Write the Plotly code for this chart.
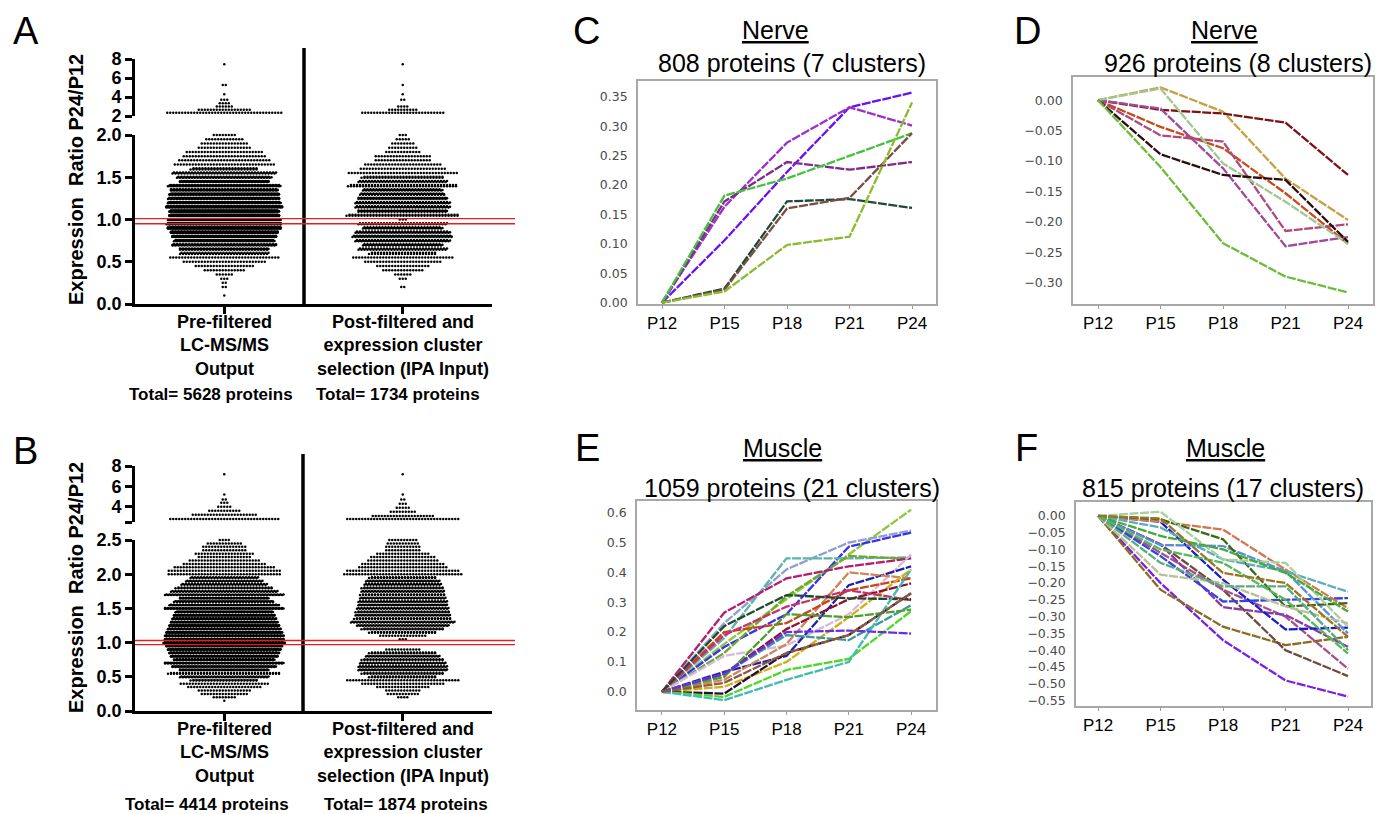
import math
import plotly.graph_objects as go

W, H = 1390, 814
OFF = 8  # page body margin offset compensation

# ---------------- Panels A / B : beeswarm data (bin value, number of proteins) ----------------
categories = ["Pre-filtered<br>LC-MS/MS<br>Output",
              "Post-filtered and<br>expression cluster<br>selection (IPA Input)"]

A_totals = [5628, 1734]
B_totals = [4414, 1874]

A_pre_lower_vals = [0.10, 0.15, 0.20, 0.25, 0.30, 0.35, 0.40, 0.45, 0.50, 0.55, 0.60, 0.65, 0.70,
                    0.75, 0.80, 0.85, 0.90, 0.95, 1.00, 1.05, 1.10, 1.15, 1.20, 1.25, 1.30, 1.35,
                    1.40, 1.45, 1.50, 1.55, 1.60, 1.65, 1.70, 1.75, 1.80, 1.85, 1.90, 1.95, 2.00]
A_pre_lower_n = [1, 0, 2, 2, 3, 6, 14, 20, 28, 37, 60, 90, 140, 200, 280, 360, 455, 495, 522, 475,
                 400, 350, 300, 260, 220, 180, 150, 120, 95, 70, 45, 34, 31, 28, 26, 18, 16, 13, 8]
A_pre_upper_vals = [2.35, 2.65, 3.0, 3.35, 3.7, 4.3, 5.25, 7.45]
A_pre_upper_n = [39, 18, 6, 4, 3, 1, 2, 1]

A_post_lower_vals = [0.20, 0.25, 0.30, 0.35, 0.40, 0.45, 0.50, 0.55, 0.60, 0.65, 0.70, 0.75, 0.80,
                     0.85, 0.90, 0.95, 1.00, 1.05, 1.10, 1.15, 1.20, 1.25, 1.30, 1.35, 1.40, 1.45,
                     1.50, 1.55, 1.60, 1.65, 1.70, 1.75, 1.80, 1.85, 1.90, 1.95, 2.00]
A_post_lower_n = [2, 0, 3, 6, 14, 18, 26, 34, 45, 60, 80, 95, 100, 95, 80, 60, 3, 75, 90, 95, 95,
                  90, 85, 80, 73, 60, 55, 37, 29, 26, 19, 19, 12, 10, 8, 5, 3]
A_post_upper_vals = [2.35, 2.65, 3.0, 3.7, 4.3, 5.25, 7.45]
A_post_upper_n = [28, 10, 4, 2, 1, 1, 1]

B_pre_lower_vals = [0.15, 0.20, 0.25, 0.30, 0.35, 0.40, 0.45, 0.50, 0.55, 0.60, 0.65, 0.70, 0.75,
                    0.80, 0.85, 0.90, 0.95, 1.00, 1.05, 1.10, 1.15, 1.20, 1.25, 1.30, 1.35, 1.40,
                    1.45, 1.50, 1.55, 1.60, 1.65, 1.70, 1.75, 1.80, 1.85, 1.90, 1.95, 2.00, 2.05,
                    2.10, 2.15, 2.20, 2.25, 2.30, 2.35, 2.40, 2.45, 2.50]
B_pre_lower_n = [1, 8, 16, 18, 25, 30, 45, 60, 75, 90, 105, 120, 135, 179, 184, 189, 194, 202, 199,
                 199, 194, 189, 184, 179, 174, 169, 130, 120, 110, 100, 90, 80, 72, 65, 58, 52, 46,
                 38, 38, 34, 28, 24, 18, 20, 15, 15, 12, 4]
B_pre_upper_vals = [2.8, 3.2, 3.6, 4.0, 4.4, 4.7, 5.2, 7.2]
B_pre_upper_n = [37, 22, 11, 5, 3, 2, 1, 1]

B_post_lower_vals = [0.20, 0.25, 0.30, 0.35, 0.40, 0.45, 0.50, 0.55, 0.60, 0.65, 0.70, 0.75, 0.80,
                     0.85, 0.90, 1.05, 1.10, 1.15, 1.20, 1.25, 1.30, 1.35, 1.40, 1.45, 1.50, 1.55,
                     1.60, 1.65, 1.70, 1.75, 1.80, 1.85, 1.90, 1.95, 2.00, 2.05, 2.10, 2.15, 2.20,
                     2.25, 2.30, 2.35, 2.40, 2.45, 2.50]
B_post_lower_n = [4, 11, 12, 18, 28, 38, 45, 55, 60, 60, 58, 55, 50, 45, 12, 3, 16, 45, 55, 62, 70,
                  65, 64, 63, 62, 60, 60, 58, 57, 56, 55, 52, 50, 45, 40, 38, 30, 28, 24, 22, 18,
                  12, 12, 11, 10]
B_post_upper_vals = [2.8, 3.1, 3.5, 3.9, 4.3, 4.7, 5.2, 7.2]
B_post_upper_n = [38, 21, 9, 5, 3, 2, 1, 1]

A_thresholds = [1.01, 0.95]
B_thresholds = [1.03, 0.97]

A_lower_ticks = [0.0, 0.5, 1.0, 1.5, 2.0]
A_upper_ticks = [2, 4, 6, 8]
B_lower_ticks = [0.0, 0.5, 1.0, 1.5, 2.0, 2.5]
B_upper_ticks = [2.5, 4, 6, 8]
B_upper_ticktext = ["", "4", "6", "8"]

# ---------------- Panels C-F : cluster profiles ----------------
timepoints = ["P12", "P15", "P18", "P21", "P24"]

C_colors = ["#6a10f0", "#9b30c8", "#7e2a86", "#46c040", "#1d4a36", "#7b4c42", "#8cba30"]
C_values = [
    [0, 0.106, 0.222, 0.332, 0.357],
    [0, 0.163, 0.272, 0.332, 0.301],
    [0, 0.172, 0.239, 0.226, 0.239],
    [0, 0.182, 0.211, 0.250, 0.288],
    [0, 0.024, 0.172, 0.176, 0.161],
    [0, 0.022, 0.160, 0.178, 0.288],
    [0, 0.019, 0.098, 0.112, 0.340],
]

D_colors = ["#c8a040", "#7c1212", "#c84a1c", "#b04a7c", "#a04a9a", "#a0c890", "#2a0c0c", "#6cbc3a"]
D_values = [
    [0, 0.021, -0.019, -0.129, -0.197],
    [0, -0.016, -0.022, -0.037, -0.123],
    [0, -0.044, -0.079, -0.153, -0.236],
    [0, -0.058, -0.068, -0.215, -0.204],
    [0, -0.014, -0.112, -0.240, -0.225],
    [0, 0.019, -0.104, -0.167, -0.236],
    [0, -0.089, -0.123, -0.131, -0.233],
    [0, -0.110, -0.235, -0.290, -0.316],
]

E_colors = ["#8dc63f", "#8c9fd0", "#3a2ef5", "#5fb3a8", "#6aaa2a", "#b21e6e", "#d8b8dc",
            "#2222a0", "#d0845a", "#c8441a", "#cfae1a", "#8e1030", "#2a0a3a", "#c8306a",
            "#1e4a2c", "#3a9898", "#4aa02a", "#4cd824", "#40bcb0", "#6a2ee0", "#8a5a3a"]
E_values = [
    [0, 0.16, 0.31, 0.46, 0.61],
    [0, 0.23, 0.41, 0.50, 0.54],
    [0, 0.15, 0.26, 0.486, 0.533],
    [0, 0.18, 0.447, 0.447, 0.45],
    [0, 0.13, 0.32, 0.455, 0.445],
    [0, 0.265, 0.38, 0.42, 0.447],
    [0, 0.12, 0.155, 0.26, 0.46],
    [0, 0.067, 0.12, 0.357, 0.42],
    [0, 0.04, 0.16, 0.40, 0.38],
    [0, 0.20, 0.23, 0.34, 0.38],
    [0, 0.017, 0.10, 0.25, 0.41],
    [0, 0.06, 0.21, 0.31, 0.363],
    [0, -0.006, 0.13, 0.19, 0.33],
    [0, 0.19, 0.285, 0.34, 0.307],
    [0, 0.22, 0.324, 0.313, 0.31],
    [0, 0.06, 0.19, 0.173, 0.29],
    [0, 0.05, 0.26, 0.25, 0.275],
    [0, -0.017, 0.073, 0.11, 0.27],
    [0, -0.028, 0.04, 0.10, 0.41],
    [0, 0.06, 0.20, 0.205, 0.195],
    [0, 0.03, 0.13, 0.19, 0.33],
]

F_colors = ["#7a1ee6", "#8a6a20", "#6e4a3c", "#a45288", "#8a3aa0", "#1a1ad0", "#3344e0",
            "#5a8ce0", "#d07850", "#3a6a1a", "#5aacbc", "#a8d0a0", "#44aa33", "#55bb55",
            "#b8c094", "#5aaa80", "#9a7420"]
F_values = [
    [0, -0.20, -0.37, -0.49, -0.538],
    [0, -0.22, -0.33, -0.385, -0.36],
    [0, -0.085, -0.22, -0.40, -0.477],
    [0, -0.11, -0.22, -0.30, -0.455],
    [0, -0.085, -0.272, -0.295, -0.39],
    [0, -0.018, -0.19, -0.338, -0.333],
    [0, -0.12, -0.255, -0.25, -0.245],
    [0, -0.087, -0.09, -0.165, -0.35],
    [0, -0.018, -0.041, -0.16, -0.275],
    [0, -0.01, -0.07, -0.27, -0.26],
    [0, -0.035, -0.13, -0.165, -0.226],
    [0, 0.012, -0.13, -0.14, -0.33],
    [0, -0.06, -0.10, -0.17, -0.285],
    [0, -0.10, -0.14, -0.25, -0.41],
    [0, -0.175, -0.20, -0.27, -0.32],
    [0, -0.14, -0.21, -0.21, -0.40],
    [0, -0.008, -0.17, -0.20, -0.36],
]

panel_titles = {"C": ("Nerve", "808 proteins (7 clusters)"),
                "D": ("Nerve", "926 proteins (8 clusters)"),
                "E": ("Muscle", "1059 proteins (21 clusters)"),
                "F": ("Muscle", "815 proteins (17 clusters)")}

# ---------------- helpers ----------------
def px(x):
    return (x - OFF) / W


def py(y):
    return 1 - (y - OFF) / H


ARIAL = "Liberation Sans, Arial, sans-serif"
BOLD = dict(family=ARIAL, color="black", weight="bold")


def swarm(vals, counts, center, cap, dx, spread):
    xs, ys = [], []
    for v, n in zip(vals, counts):
        if n <= 0:
            continue
        k = math.ceil(n / cap)
        base, extra = divmod(n, k)
        for j in range(k):
            m = base + (1 if j < extra else 0)
            yo = 0.0 if k == 1 else (j / (k - 1) - 0.5) * 2 * spread
            xo = 0.0 if k == 1 else ((j % 2) - 0.5) * dx / 2
            for i in range(m):
                xs.append(center + (i - (m - 1) / 2) * dx + xo)
                ys.append(v + yo)
    return xs, ys


fig = go.Figure()
DX = 3.0 / 178.5  # 3 px dot spacing


def add_swarm(vals, counts, center, cap, yaxis, xaxis, spread):
    xs, ys = swarm(vals, counts, center, cap, DX, spread)
    fig.add_trace(go.Scatter(x=xs, y=ys, mode="markers", xaxis=xaxis, yaxis=yaxis,
                             marker=dict(size=2.5, color="black", line=dict(width=0)),
                             cliponaxis=False, hoverinfo="skip", showlegend=False))


# Panel A
add_swarm(A_pre_lower_vals, A_pre_lower_n, 1, 39, "y", "x", 0.007)
add_swarm(A_pre_upper_vals, A_pre_upper_n, 1, 39, "y2", "x", 0.0)
add_swarm(A_post_lower_vals, A_post_lower_n, 2, 39, "y", "x", 0.007)
add_swarm(A_post_upper_vals, A_post_upper_n, 2, 39, "y2", "x", 0.0)
# Panel B
add_swarm(B_pre_lower_vals, B_pre_lower_n, 1, 42, "y3", "x2", 0.005)
add_swarm(B_pre_upper_vals, B_pre_upper_n, 1, 42, "y4", "x2", 0.0)
add_swarm(B_post_lower_vals, B_post_lower_n, 2, 40, "y3", "x2", 0.005)
add_swarm(B_post_upper_vals, B_post_upper_n, 2, 40, "y4", "x2", 0.0)

# Panels C-F
for colors, values, xa, ya in [(C_colors, C_values, "x3", "y5"), (D_colors, D_values, "x4", "y6"),
                               (E_colors, E_values, "x5", "y7"), (F_colors, F_values, "x6", "y8")]:
    for c, v in zip(colors, values):
        fig.add_trace(go.Scatter(x=timepoints, y=v, mode="lines", xaxis=xa, yaxis=ya,
                                 line=dict(color=c, width=2.3, dash="9px,1.5px"),
                                 hoverinfo="skip", showlegend=False))

# ---------------- axes ----------------
def swarm_x(domain, anchor):
    return dict(domain=domain, anchor=anchor, range=[0.5, 2.5], tickvals=[1, 2], ticktext=["", ""],
                showline=True, linewidth=2.6, linecolor="black", ticks="outside", ticklen=7,
                tickwidth=2.6, tickcolor="black", showgrid=False, zeroline=False,
                fixedrange=True, automargin=False)


def swarm_y(domain, anchor, rng, tickvals, ticktext):
    return dict(domain=domain, anchor=anchor, range=rng, tickvals=tickvals, ticktext=ticktext,
                showline=True, linewidth=2.6, linecolor="black", ticks="outside", ticklen=7,
                tickwidth=2.6, tickcolor="black", tickfont=dict(size=18, **BOLD),
                showgrid=False, zeroline=False, fixedrange=True, automargin=False)


def line_x(domain, anchor, rng):
    return dict(domain=domain, anchor=anchor, type="category", range=rng, showline=True, mirror=True,
                linecolor="#a8a8a8", linewidth=1.6, ticks="outside", ticklen=3, tickcolor="#9a9a9a",
                tickfont=dict(family=ARIAL, size=17, color="black"), showgrid=False, zeroline=False,
                automargin=False)


def line_y(domain, anchor, rng, dtick, fmt):
    return dict(domain=domain, anchor=anchor, range=rng, dtick=dtick, tick0=0, tickformat=fmt,
                showline=True, mirror=True, linecolor="#a8a8a8", linewidth=1.6, ticks="",
                ticklabelstandoff=6,
                tickfont=dict(family="DejaVu Sans, Verdana, sans-serif", size=12.5, color="#4a4a4a"),
                showgrid=False, zeroline=False, automargin=False)


fmt1 = lambda t: f"{t:.1f}"
layout_axes = dict(
    xaxis=swarm_x([px(135), px(492)], "y"),
    yaxis=swarm_y([py(304), py(135)], "x", [0, 2], A_lower_ticks, [fmt1(t) for t in A_lower_ticks]),
    yaxis2=swarm_y([py(116), py(59)], "x", [2, 8], A_upper_ticks, [str(t) for t in A_upper_ticks]),
    xaxis2=swarm_x([px(135), px(492)], "y3"),
    yaxis3=swarm_y([py(711), py(540)], "x2", [0, 2.5], B_lower_ticks, [fmt1(t) for t in B_lower_ticks]),
    yaxis4=swarm_y([py(522), py(466)], "x2", [2.5, 8], B_upper_ticks, B_upper_ticktext),
    xaxis3=line_x([px(638), px(936)], "y5", [-0.384, 4.384]),
    yaxis5=line_y([py(304), py(81)], "x3", [-0.0023, 0.3767], 0.05, ".2f"),
    xaxis4=line_x([px(1073), px(1373)], "y6", [-0.4, 4.4]),
    yaxis6=line_y([py(304), py(77)], "x4", [-0.335, 0.038], 0.05, ".2f"),
    xaxis5=line_x([px(637), px(936)], "y7", [-0.4, 4.4]),
    yaxis7=line_y([py(710), py(501)], "x5", [-0.061, 0.639], 0.1, ".1f"),
    xaxis6=line_x([px(1076), px(1371)], "y8", [-0.352, 4.368]),
    yaxis8=line_y([py(706), py(502)], "x6", [-0.566, 0.041], 0.05, ".2f"),
)

# ---------------- shapes ----------------
shapes = []
shapes.append(dict(type="line", xref="paper", yref="paper", x0=px(304), x1=px(304),
                   y0=py(304), y1=py(48), line=dict(color="black", width=3.5)))
shapes.append(dict(type="line", xref="paper", yref="paper", x0=px(303), x1=px(303),
                   y0=py(711), y1=py(454), line=dict(color="black", width=3.5)))
for t in A_thresholds:
    shapes.append(dict(type="line", xref="paper", yref="y", x0=px(135), x1=px(515), y0=t, y1=t,
                       line=dict(color="#e02020", width=1.4)))
for t in B_thresholds:
    shapes.append(dict(type="line", xref="paper", yref="y3", x0=px(135), x1=px(515), y0=t, y1=t,
                       line=dict(color="#e02020", width=1.4)))

# ---------------- annotations ----------------
ann = []
for letter, x, y in [("A", 11, 31), ("B", 11, 451), ("C", 571, 31), ("D", 1012, 31),
                     ("E", 573, 448), ("F", 1013, 448)]:
    ann.append(dict(text=letter, xref="paper", yref="paper", x=px(x), y=py(y), xanchor="left",
                    yanchor="middle", showarrow=False, font=dict(family=ARIAL, size=38, color="black")))

for x, y in [(76, 180), (76, 588)]:
    ann.append(dict(text="Expression  Ratio P24/P12", xref="paper", yref="paper", x=px(x), y=py(y),
                    textangle=-90, showarrow=False, xanchor="center", yanchor="middle",
                    font=dict(size=20, **BOLD)))

# category labels under each group
for xref, ycen in [("x", 346), ("x2", 752)]:
    for i, lab in enumerate(categories):
        ann.append(dict(text=lab, xref=xref, yref="paper", x=i + 1, y=py(ycen), showarrow=False,
                        xanchor="center", yanchor="middle", font=dict(size=18, **BOLD)))

for (n, x, y) in [(A_totals[0], 211, 394), (A_totals[1], 398, 394),
                  (B_totals[0], 207, 804), (B_totals[1], 406, 804)]:
    ann.append(dict(text=f"Total= {n} proteins", xref="paper", yref="paper", x=px(x), y=py(y),
                    showarrow=False, xanchor="center", yanchor="middle", font=dict(size=17, **BOLD)))

for key, (tx, ty, sx, sy) in {"C": (775, 30, 792, 63), "D": (1224, 30, 1238, 63),
                              "E": (782, 448, 792, 488), "F": (1225, 448, 1223, 488)}.items():
    t, s = panel_titles[key]
    ann.append(dict(text=f"<u>{t}</u>", xref="paper", yref="paper", x=px(tx), y=py(ty),
                    showarrow=False, xanchor="center", yanchor="middle",
                    font=dict(family=ARIAL, size=25, color="black")))
    ann.append(dict(text=s, xref="paper", yref="paper", x=px(sx), y=py(sy),
                    showarrow=False, xanchor="center", yanchor="middle",
                    font=dict(family=ARIAL, size=25, color="black")))

fig.update_layout(width=W, height=H, margin=dict(l=0, r=0, t=0, b=0, autoexpand=False),
                  paper_bgcolor="white", plot_bgcolor="white", showlegend=False, shapes=shapes,
                  annotations=ann, **layout_axes)

fig.write_html("out.html", config={"displayModeBar": False})
